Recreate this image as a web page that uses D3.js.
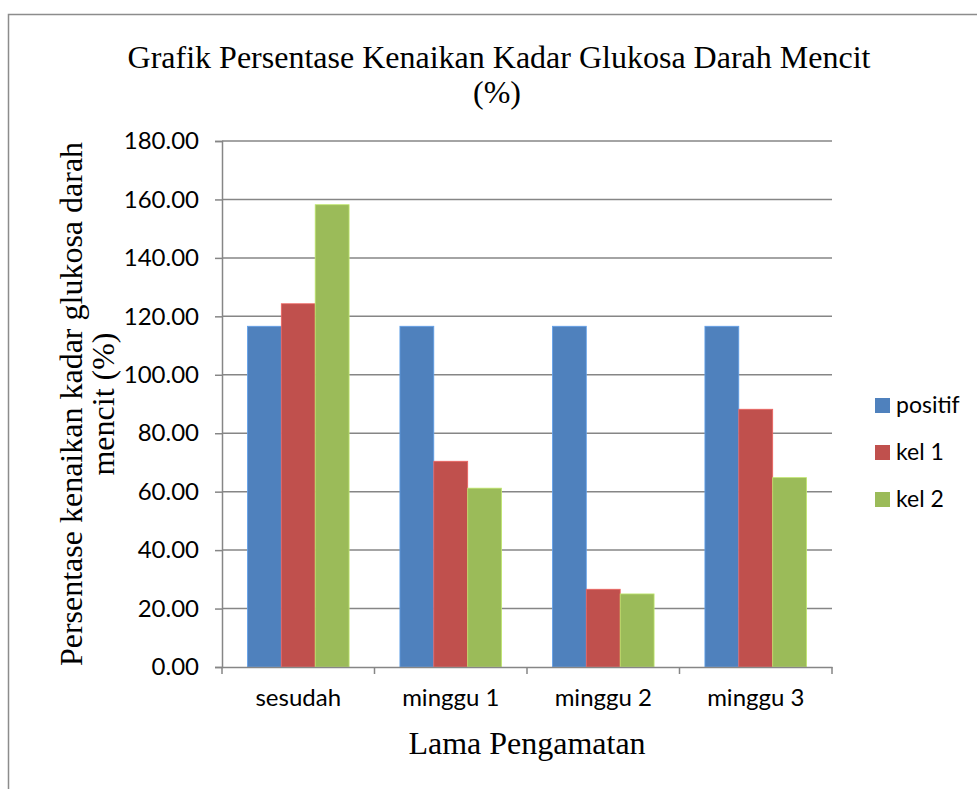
<!DOCTYPE html>
<html>
<head>
<meta charset="utf-8">
<script src="https://cdn.jsdelivr.net/npm/d3@7"></script>
<style>
  body { margin: 0; background: #fff; }
  svg { display: block; }
</style>
</head>
<body>
<svg></svg>
<script>
const width = 977;
const height = 789;

// data
const categories = ["sesudah", "minggu 1", "minggu 2", "minggu 3"];
const seriesNames = ["positif", "kel 1", "kel 2"];
const positif = [116.6, 116.6, 116.6, 116.6];
const kel1 = [124.3, 70.4, 26.6, 88.2];
const kel2 = [158.2, 61.2, 25.0, 64.8];
const yTicks = [0, 20, 40, 60, 80, 100, 120, 140, 160, 180];
const colors = ["#4F81BD", "#C0504D", "#9BBB59"];

const seriesValues = [positif, kel1, kel2];

var svg = d3.select("svg")
  .attr("width", width)
  .attr("height", height);

// outer frame
svg.append("rect")
  .attr("x", 8.5).attr("y", 14.5)
  .attr("width", 1000).attr("height", 1000)
  .attr("fill", "none")
  .attr("stroke", "#8c8c8c")
  .attr("stroke-width", 1.5);

const plot = { left: 222, right: 832, top: 141, bottom: 667 };

const x0 = d3.scaleBand()
  .domain(categories)
  .range([plot.left, plot.right]);

// excel-like gap width 150%
const barW = x0.bandwidth() / 4.5;
const x1 = d3.scaleBand()
  .domain(seriesNames)
  .range([0, barW * 3]);

const y = d3.scaleLinear()
  .domain([0, 180])
  .range([plot.bottom, plot.top]);

// gridlines
svg.append("g")
  .selectAll("line")
  .data(yTicks.slice(1))
  .enter().append("line")
  .attr("x1", plot.left).attr("x2", plot.right)
  .attr("y1", d => y(d)).attr("y2", d => y(d))
  .attr("stroke", "#868686")
  .attr("stroke-width", 1.5);

// bars
const groups = svg.append("g")
  .selectAll("g")
  .data(categories)
  .enter().append("g")
  .attr("transform", d => "translate(" + (x0(d) + barW * 0.75) + ",0)");

groups.selectAll("rect")
  .data((c, i) => seriesNames.map((s, j) => ({ s: s, j: j, v: seriesValues[j][i] })))
  .enter().append("rect")
  .attr("x", d => x1(d.s))
  .attr("width", x1.bandwidth())
  .attr("y", d => y(d.v))
  .attr("height", d => y(0) - y(d.v))
  .attr("fill", d => colors[d.j])
  .attr("stroke", d => d3.color(colors[d.j]).brighter(0.6))
  .attr("stroke-width", 0.8);

const sans = "Lato, 'Open Sans', sans-serif";

// y axis
const yAxis = svg.append("g")
  .attr("transform", "translate(" + plot.left + ",0)")
  .call(d3.axisLeft(y)
    .tickValues(yTicks)
    .tickSize(7)
    .tickPadding(16)
    .tickFormat(d3.format(".2f")));
yAxis.select(".domain").attr("stroke", "#868686").attr("stroke-width", 1.5);
yAxis.selectAll(".tick line").attr("stroke", "#868686").attr("stroke-width", 1.5);
yAxis.selectAll("text")
  .attr("font-family", sans)
  .attr("font-size", 24)
  .attr("fill", "#000");

// x axis
const xAxis = svg.append("g")
  .attr("transform", "translate(0," + plot.bottom + ")")
  .call(d3.axisBottom(x0).tickSize(0).tickPadding(22));
xAxis.select(".domain").attr("stroke", "#868686").attr("stroke-width", 1.5);
xAxis.selectAll("text")
  .attr("font-family", sans)
  .attr("font-size", 24)
  .attr("fill", "#000");
// category separators
svg.append("g")
  .selectAll("line")
  .data(categories.concat(["end"]))
  .enter().append("line")
  .attr("x1", (d, i) => plot.left + i * x0.step())
  .attr("x2", (d, i) => plot.left + i * x0.step())
  .attr("y1", plot.bottom).attr("y2", plot.bottom + 7)
  .attr("stroke", "#868686")
  .attr("stroke-width", 1.5);

// titles
const serif = "'Liberation Serif', 'Times New Roman', serif";
svg.append("text")
  .attr("x", 499).attr("y", 68)
  .attr("text-anchor", "middle")
  .attr("font-family", serif).attr("font-size", 32)
  .text("Grafik Persentase Kenaikan Kadar Glukosa Darah Mencit");
svg.append("text")
  .attr("x", 497).attr("y", 103)
  .attr("text-anchor", "middle")
  .attr("font-family", serif).attr("font-size", 32)
  .text("(%)");

svg.append("text")
  .attr("x", 527).attr("y", 754)
  .attr("text-anchor", "middle")
  .attr("font-family", serif).attr("font-size", 32)
  .text("Lama Pengamatan");

const yt = svg.append("text")
  .attr("transform", "translate(82,404) rotate(-90)")
  .attr("text-anchor", "middle")
  .attr("font-family", serif).attr("font-size", 32);
yt.append("tspan").attr("x", 0).attr("dy", 0).text("Persentase kenaikan kadar glukosa darah");
yt.append("tspan").attr("x", 0).attr("dy", 32).text("mencit (%)");

// legend
const legend = svg.append("g")
  .selectAll("g")
  .data(seriesNames)
  .enter().append("g")
  .attr("transform", (d, i) => "translate(875," + (405 + i * 47) + ")");
legend.append("rect")
  .attr("x", 0).attr("y", -7)
  .attr("width", 15).attr("height", 15)
  .attr("fill", (d, i) => colors[i]);
legend.append("text")
  .attr("x", 21).attr("y", 0)
  .attr("dy", "0.35em")
  .attr("font-family", sans)
  .attr("font-size", 23)
  .text(d => d);
</script>
</body>
</html>
